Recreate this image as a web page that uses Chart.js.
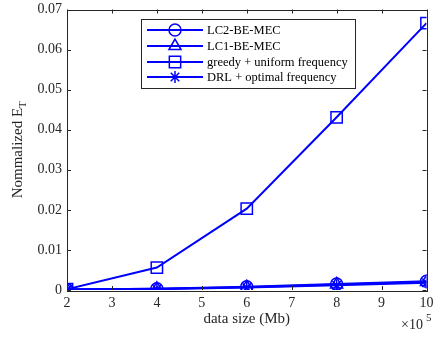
<!DOCTYPE html>
<html>
<head>
<meta charset="utf-8">
<script src="https://cdn.jsdelivr.net/npm/chart.js@4"></script>
<style>
html,body{margin:0;padding:0;background:#fff;}
#wrap{position:relative;width:436px;height:341px;}
</style>
</head>
<body>
<div id="wrap"><canvas id="c" width="436" height="341"></canvas></div>
<script>
// data size (x 10^5 Mb)
const dataSizes = [2, 4, 6, 8, 10];
const seriesLabels = ['LC2-BE-MEC', 'LC1-BE-MEC', 'greedy + uniform frequency', 'DRL + optimal frequency'];
const lc2 = [0.0001, 0.0003, 0.0008, 0.0015, 0.0022];
const lc1 = [0.0001, 0.0003, 0.0007, 0.0014, 0.0020];
const greedy = [0.0002, 0.0056, 0.0203, 0.0431, 0.0666];
const drl = [0.0001, 0.0002, 0.0006, 0.0012, 0.0018];
const yTicks = [0, 0.01, 0.02, 0.03, 0.04, 0.05, 0.06, 0.07];
const xTicks = [2, 3, 4, 5, 6, 7, 8, 9, 10];

const BLUE = '#0000ff';
const AX = '#262626';
const FONT = '"Liberation Serif", "Times New Roman", serif';

const styles = ['circle', 'triangle', 'rect', 'star'];
const radii = [6, 7, 8, 6];
const allSeries = [lc2, lc1, greedy, drl];

const datasets = allSeries.map((vals, i) => ({
  label: seriesLabels[i],
  data: dataSizes.map((x, j) => ({x: x, y: vals[j]})),
  borderColor: BLUE,
  backgroundColor: 'rgba(0,0,0,0)',
  borderWidth: 2,
  pointStyle: styles[i],
  pointRadius: radii[i],
  pointBorderWidth: 1.5,
  pointBorderColor: BLUE,
  pointBackgroundColor: 'rgba(0,0,0,0)',
  tension: 0,
  fill: false
}));

function drawMarker(ctx, style, r, x, y) {
  if (Chart.helpers && Chart.helpers.drawPoint) {
    Chart.helpers.drawPoint(ctx, {pointStyle: style, radius: r, rotation: 0, borderWidth: 1.5}, x, y);
  }
}

const decor = {
  id: 'decor',
  afterDraw(chart) {
    const ctx = chart.ctx;
    const a = chart.chartArea;
    const xs = chart.scales.x, ys = chart.scales.y;
    ctx.save();
    // box
    ctx.strokeStyle = AX;
    ctx.lineWidth = 1;
    ctx.strokeRect(Math.round(a.left) + 0.5, Math.round(a.top) + 0.5, Math.round(a.right - a.left), Math.round(a.bottom - a.top));
    // ticks inward
    const tl = 4;
    ctx.beginPath();
    xTicks.forEach(v => {
      const px = Math.round(xs.getPixelForValue(v)) + 0.5;
      ctx.moveTo(px, a.bottom); ctx.lineTo(px, a.bottom - tl);
      ctx.moveTo(px, a.top); ctx.lineTo(px, a.top + tl);
    });
    yTicks.forEach(v => {
      const py = Math.round(ys.getPixelForValue(v)) + 0.5;
      ctx.moveTo(a.left, py); ctx.lineTo(a.left + tl, py);
      ctx.moveTo(a.right, py); ctx.lineTo(a.right - tl, py);
    });
    ctx.stroke();

    // y axis title with subscript
    ctx.fillStyle = AX;
    ctx.save();
    ctx.translate(22, (a.top + a.bottom) / 2);
    ctx.rotate(-Math.PI / 2);
    ctx.font = '15px ' + FONT;
    const main = 'Nommalized E';
    ctx.font = '15px ' + FONT;
    const w1 = ctx.measureText(main).width;
    ctx.font = '11px ' + FONT;
    const w2 = ctx.measureText('T').width;
    const tot = w1 + w2;
    ctx.textBaseline = 'alphabetic';
    ctx.textAlign = 'left';
    ctx.font = '15px ' + FONT;
    ctx.fillText(main, -tot / 2, 0);
    ctx.font = '11px ' + FONT;
    ctx.fillText('T', -tot / 2 + w1, 4);
    ctx.restore();

    // x axis title
    ctx.font = '15px ' + FONT;
    ctx.textAlign = 'center';
    ctx.textBaseline = 'alphabetic';
    ctx.fillText('data size (Mb)', (a.left + a.right) / 2, 323);

    // exponent label
    ctx.textAlign = 'left';
    ctx.font = '14px ' + FONT;
    ctx.fillText('\u00d710', 401, 329);
    ctx.font = '11px ' + FONT;
    ctx.fillText('5', 426, 321);

    // legend
    const lx = 141, ly = 19, lw = 214, lh = 69;
    ctx.fillStyle = '#ffffff';
    ctx.fillRect(lx, ly, lw, lh);
    ctx.strokeStyle = AX;
    ctx.lineWidth = 1;
    ctx.strokeRect(lx + 0.5, ly + 0.5, lw, lh);
    const rows = [30, 46, 62, 77];
    rows.forEach((ry, i) => {
      ctx.strokeStyle = BLUE;
      ctx.lineWidth = 2;
      ctx.beginPath();
      ctx.moveTo(147, ry); ctx.lineTo(203, ry);
      ctx.stroke();
      ctx.fillStyle = 'rgba(0,0,0,0)';
      ctx.strokeStyle = BLUE;
      ctx.lineWidth = 1.5;
      drawMarker(ctx, styles[i], radii[i], 175, ry);
      ctx.fillStyle = '#000';
      ctx.font = '12.5px ' + FONT;
      ctx.textAlign = 'left';
      ctx.textBaseline = 'middle';
      ctx.fillText(seriesLabels[i], 207, ry + 1);
    });
    ctx.restore();
  }
};

new Chart(document.getElementById('c'), {
  type: 'line',
  data: {datasets: datasets},
  options: {
    responsive: false,
    animation: false,
    devicePixelRatio: 1,
    layout: {padding: {left: 0, top: 7, right: 5, bottom: 0}},
    plugins: {legend: {display: false}, tooltip: {enabled: false}},
    scales: {
      x: {
        type: 'linear', min: 2, max: 10,
        afterBuildTicks: s => { s.ticks = xTicks.map(v => ({value: v})); },
        afterFit: s => { s.height = 51; s.paddingLeft = 0; s.paddingRight = 0; },
        grid: {display: false, drawTicks: false},
        border: {display: false},
        ticks: {color: AX, font: {family: FONT, size: 14}, padding: 5, maxRotation: 0, autoSkip: false,
          callback: v => String(v)}
      },
      y: {
        type: 'linear', min: 0, max: 0.07,
        afterBuildTicks: s => { s.ticks = yTicks.map(v => ({value: v})); },
        afterFit: s => { s.width = 67; s.paddingTop = 0; s.paddingBottom = 0; },
        grid: {display: false, drawTicks: false},
        border: {display: false},
        ticks: {color: AX, font: {family: FONT, size: 14}, padding: 5, autoSkip: false,
          callback: v => v === 0 ? '0' : v.toFixed(2)}
      }
    }
  },
  plugins: [decor]
});
</script>
</body>
</html>
